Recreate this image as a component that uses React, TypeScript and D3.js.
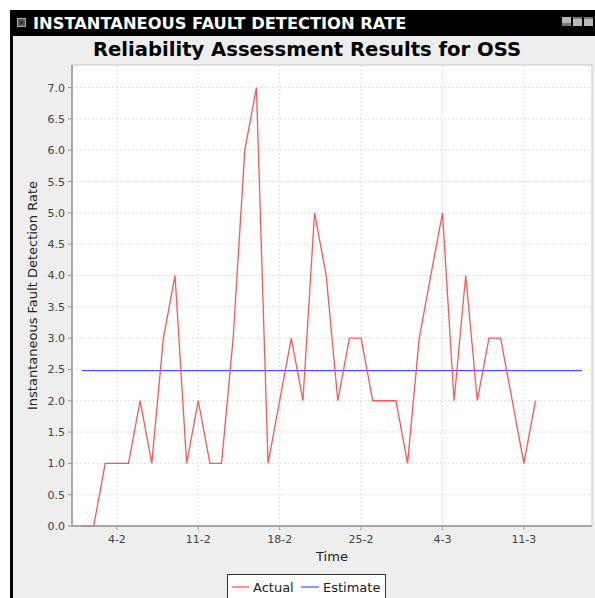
import React from "react";
import * as d3 from "d3";

const startDate = "2011-02-01";
const actualValues = [0, 0, 1, 1, 1, 2, 1, 3, 4, 1, 2, 1, 1, 3, 6, 7, 1, 2, 3, 2, 5, 4, 2, 3, 3, 2, 2, 2, 1, 3, 4, 5, 2, 4, 2, 3, 3, 2, 1, 2];
const estimateDates = ["2011-02-01", "2011-03-16"];
const estimateValues = [2.48, 2.48];
const xTickDates = ["2011-02-04", "2011-02-11", "2011-02-18", "2011-02-25", "2011-03-04", "2011-03-11"];
const yTicks = [0, 0.5, 1, 1.5, 2, 2.5, 3, 3.5, 4, 4.5, 5, 5.5, 6, 6.5, 7];

const FONT = "'DejaVu Sans', sans-serif";

export default function App() {
  const W = 595, H = 598;
  const left = 72, right = 592, top = 65, bottom = 526;
  const parse = (s: string) => new Date(s + "T00:00:00Z");
  const t0 = parse(startDate);
  const actual = actualValues.map((v, i) => ({ d: d3.utcDay.offset(t0, i), v }));
  const estimate = estimateDates.map((s, i) => ({ d: parse(s), v: estimateValues[i] }));
  const dMin = estimate[0].d.getTime();
  const dMax = estimate[estimate.length - 1].d.getTime();
  const margin = (dMax - dMin) * 0.02;
  const x = d3.scaleUtc().domain([new Date(dMin - margin), new Date(dMax + margin)]).range([left, right]);
  const y = d3.scaleLinear().domain([0, 7.36]).range([bottom, top]);
  const line = d3.line<{ d: Date; v: number }>().x((p) => x(p.d)).y((p) => y(p.v));
  const fmtX = d3.utcFormat("%-d-%-m");
  const fmtY = d3.format(".1f");

  return (
    <svg width={W} height={H} style={{ position: "absolute", left: 0, top: 0, display: "block" }} fontFamily={FONT}>
      <rect x={0} y={0} width={W} height={H} fill="#ffffff" />
      {/* frame */}
      <rect x={10} y={10} width={W - 10} height={H - 10} fill="#000000" />
      <rect x={13} y={36} width={W - 13} height={H - 36} fill="#eeeeee" />
      {/* window icon */}
      <rect x={17.5} y={18.5} width={8} height={8} fill="#555" stroke="#aaa" strokeWidth={1} />
      <rect x={20.5} y={21.5} width={2} height={2} fill="#111" />
      <text x={33} y={29} fill="#ffffff" fontSize={16.3} fontWeight="bold" fontFamily={FONT}>INSTANTANEOUS FAULT DETECTION RATE</text>
      {[562, 573, 584].map((bx, i) => (
        <g key={i}>
          <rect x={bx} y={17} width={9} height={9} fill="#b8b8b8" />
          <rect x={bx} y={i === 0 ? 23 : 17} width={9} height={i === 0 ? 3 : 2} fill="#777" />
        </g>
      ))}
      {/* chart title */}
      <text x={307} y={56} textAnchor="middle" fontSize={19.6} fontWeight="bold" fill="#000">Reliability Assessment Results for OSS</text>
      {/* plot */}
      <rect x={left} y={top} width={right - left} height={bottom - top} fill="#ffffff" stroke="#c8c8c8" strokeWidth={1} />
      {yTicks.map((t) => (
        <line key={"gy" + t} x1={left} x2={right} y1={y(t)} y2={y(t)} stroke="#d0d0d0" strokeWidth={0.7} strokeDasharray="2,2" />
      ))}
      {xTickDates.map((s) => (
        <line key={"gx" + s} x1={x(parse(s))} x2={x(parse(s))} y1={top} y2={bottom} stroke="#d0d0d0" strokeWidth={0.7} strokeDasharray="2,2" />
      ))}
      <path d={line(estimate) || ""} fill="none" stroke="#5555ff" strokeWidth={1.4} />
      <path d={line(actual) || ""} fill="none" stroke="#ff5555" strokeWidth={1.3} strokeLinejoin="miter" />
      {/* axes */}
      <line x1={left} x2={left} y1={top} y2={bottom} stroke="#999" strokeWidth={1.5} />
      <line x1={left} x2={right} y1={bottom} y2={bottom} stroke="#999" strokeWidth={1.5} />
      {yTicks.map((t) => (
        <g key={"ty" + t}>
          <line x1={left - 4} x2={left} y1={y(t)} y2={y(t)} stroke="#999" strokeWidth={1} />
          <text x={left - 7} y={y(t) + 4} textAnchor="end" fontSize={11} fill="#444">{fmtY(t)}</text>
        </g>
      ))}
      {xTickDates.map((s) => (
        <g key={"tx" + s}>
          <line x1={x(parse(s))} x2={x(parse(s))} y1={bottom} y2={bottom + 4} stroke="#999" strokeWidth={1} />
          <text x={x(parse(s))} y={bottom + 17} textAnchor="middle" fontSize={11} fill="#444">{fmtX(parse(s))}</text>
        </g>
      ))}
      <text x={(left + right) / 2} y={561} textAnchor="middle" fontSize={13} fill="#222">Time</text>
      <text transform={`translate(37,${(top + bottom) / 2}) rotate(-90)`} textAnchor="middle" fontSize={13} fill="#222">Instantaneous Fault Detection Rate</text>
      {/* legend */}
      <rect x={227.5} y={574.5} width={158} height={30} fill="#ffffff" stroke="#333" strokeWidth={1} />
      <line x1={232} x2={249} y1={587} y2={587} stroke="#ff5555" strokeWidth={1.3} />
      <text x={253} y={592} fontSize={13} fill="#222">Actual</text>
      <line x1={301} x2={319} y1={587} y2={587} stroke="#5555ff" strokeWidth={1.3} />
      <text x={323} y={592} fontSize={13} fill="#222">Estimate</text>
    </svg>
  );
}
